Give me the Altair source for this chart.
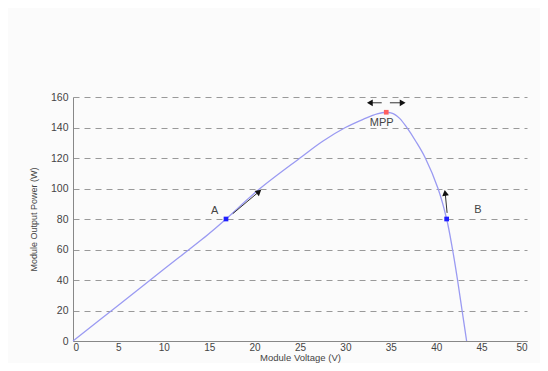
import altair as alt
import pandas as pd

# P-V curve
volts = [0, 5, 10, 15, 16.85, 20.6, 25, 27.5, 30, 32, 33.5, 34.5, 35.0, 35.5, 36.0, 36.7, 37.8, 38.8, 40.2, 41.15, 41.8, 42.35, 42.85, 43.35]
power = [0, 23.5, 47, 70.5, 80, 100, 120, 131, 140, 145.5, 149, 150, 149.6, 148.3, 145.8, 140.5, 130.5, 120, 100, 80, 60, 40, 20, 0]

# marked points
pt_names = ["A", "B", "MPP"]
pt_v = [16.85, 41.15, 34.5]
pt_p = [80, 80, 150]
pt_colors = ["#1f1fff", "#1f1fff", "#ff6060"]

# labels
lab_text = ["A", "B", "MPP"]
lab_v = [15.6, 44.6, 34.0]
lab_p = [85, 86, 143]

# arrows (tail -> head)
arr_v1 = [17.6, 41.2, 34.0, 34.9]
arr_p1 = [83.5, 84.0, 156.2, 156.2]
arr_v2 = [20.4, 41.0, 32.8, 36.2]
arr_p2 = [97.5, 96.5, 156.2, 156.2]
arr_angle = [50, 352, 270, 90]

xticks = list(range(0, 51, 5))
yticks = list(range(0, 161, 20))

curve = pd.DataFrame({"V": volts, "P": power})
pts = pd.DataFrame({"name": pt_names, "V": pt_v, "P": pt_p, "c": pt_colors})
labs = pd.DataFrame({"t": lab_text, "V": lab_v, "P": lab_p})
arrs = pd.DataFrame({"V": arr_v1, "P": arr_p1, "V2": arr_v2, "P2": arr_p2, "ang": arr_angle})
heads_df = pd.DataFrame({"V": arr_v2, "P": arr_p2, "ang": arr_angle})

xs = alt.Scale(domain=[0, 50], nice=False, zero=False)
ys = alt.Scale(domain=[0, 160], nice=False)

font = "Liberation Sans"

xaxis = alt.Axis(
    title="Module Voltage (V)", values=xticks, grid=False, ticks=False,
    labelPadding=1, labelFontSize=10, labelColor="#444", labelOverlap=False,
    titleFontSize=9.5, titleColor="#444", titleFontWeight="normal",
    titleY=11, titleBaseline="top",
    domainColor="#888", labelFont=font, titleFont=font)
yaxis = alt.Axis(
    title="Module Output Power (W)", values=yticks, grid=True, gridDash=[6, 5],
    gridColor="#999", gridWidth=1, ticks=False, labelPadding=5, labelOverlap=False,
    labelFontSize=10.5, labelColor="#444", titleFontSize=9, titleColor="#444",
    titleFontWeight="normal", titlePadding=12, domainColor="#888",
    labelFont=font, titleFont=font)

def X():
    return alt.X("V:Q", scale=xs, axis=xaxis)

def Y():
    return alt.Y("P:Q", scale=ys, axis=yaxis)

line = alt.Chart(curve).mark_line(color="#9a9af2", strokeWidth=1.3, interpolate="catmull-rom").encode(
    x=X(), y=Y())

shafts = alt.Chart(arrs).mark_rule(color="#333", strokeWidth=1).encode(
    x=X(), y=Y(), x2="V2:Q", y2="P2:Q")
heads = alt.Chart(heads_df).mark_point(shape="triangle", filled=True, color="#111", size=45, opacity=1).encode(
    x=X(), y=Y(), angle=alt.Angle("ang:Q", scale=None))

points = alt.Chart(pts).mark_point(shape="square", filled=True, size=22, opacity=1).encode(
    x=X(), y=Y(), color=alt.Color("c:N", scale=None))

labels = alt.Chart(labs).mark_text(fontSize=11, color="#444", font=font).encode(
    x=X(), y=Y(), text="t:N")

chart = alt.layer(line, shafts, heads, points, labels).properties(
    width=454, height=244,
    autosize=alt.AutoSizeParams(type="none"),
    padding={"left": 65, "top": 89, "right": 13, "bottom": 22},
    background="#fbfbfb",
).configure_view(stroke=None)

chart.save("out.html", embed_options={"renderer": "svg", "actions": False})
